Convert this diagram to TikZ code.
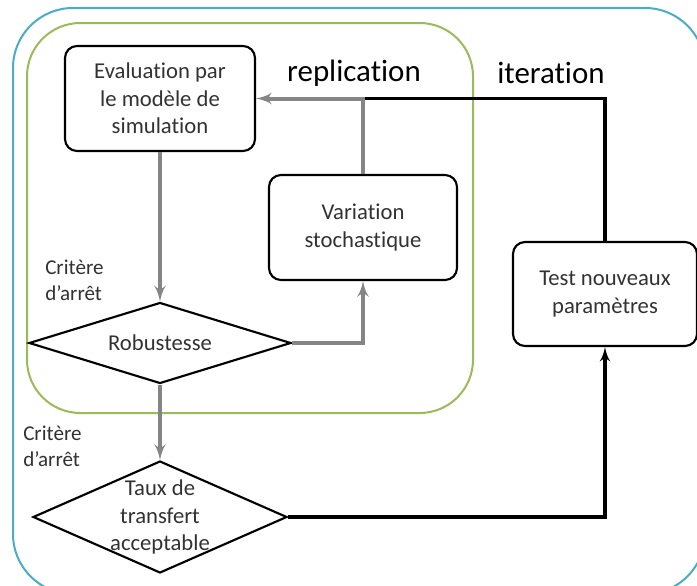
\documentclass[tikz,border=0pt]{standalone}
\usepackage{fontspec}
\setmainfont{Carlito}[Ligatures=NoCommon]
\usetikzlibrary{shapes,arrows}
\definecolor{outerblue}{RGB}{75,172,198}
\definecolor{innergreen}{RGB}{155,187,89}
\definecolor{txtgray}{RGB}{50,50,50}
\tikzstyle{block} = [draw, line width=1.6pt, rectangle, rounded corners=9pt, align=center, text=txtgray, font=\fontsize{17}{20.6}\selectfont]
\tikzstyle{decision} = [draw, line width=1.6pt, diamond, aspect=3.2, inner sep=0pt, align=center, text=txtgray, font=\fontsize{17}{20.6}\selectfont]
\tikzstyle{note} = [draw=none, align=left, anchor=west, inner sep=0pt, text=txtgray, font=\fontsize{15.8}{19.5}\selectfont]
\tikzstyle{title} = [draw=none, text=black, font=\fontsize{23.2}{27}\selectfont]
\tikzstyle{grayline} = [color=black!48, line width=3pt]
\tikzstyle{blackline} = [color=black, line width=2.7pt]

\begin{document}
\begin{tikzpicture}[x=0.75pt, y=-0.75pt, >=latex']
    \useasboundingbox (0,0) rectangle (697,586);
 % frames
    \draw [outerblue, line width=1.5pt, rounded corners=45pt] (13,8) rectangle (705,594);
    \draw [innergreen, line width=1.5pt, rounded corners=40pt] (27,23) rectangle (473,413);
 % nodes
    \node [block, minimum width=142.5pt, minimum height=78.75pt, name=evaluation] at (160,98.5) {Evaluation par\\le mod\`ele de\\simulation};
    \node [block, minimum width=141pt, minimum height=78.75pt, name=variation] at (363,227.5) {Variation\\stochastique};
    \node [block, minimum width=138pt, minimum height=78pt, name=test] at (605,294) {Test nouveaux\\param\`etres};
    \node [decision, minimum width=196.5pt, minimum height=60.75pt, name=robustesse] at (160,343) {Robustesse};
    \node [decision, minimum width=190.5pt, minimum height=84pt, label={[align=center, text=txtgray, font=\fontsize{17}{20.6}\selectfont]center:Taux de\\transfert\\acceptable}, name=taux] at (160,517) {};
    \node [note, name=critere1] at (45,280) {Crit\`ere\\d'arr\^et};
    \node [note, name=critere2] at (23,446) {Crit\`ere\\d'arr\^et};
    \node [title, name=replication] at (354,73) {replication};
    \node [title, name=iteration] at (551,73) {iteration};
    \coordinate (join) at (variation.north |- evaluation.east);
    % edges
    \draw [blackline] (test.north) |- (join);
    \draw [grayline, ->] (evaluation) -- (robustesse);
    \draw [grayline, ->] (robustesse.east) -| (variation.south);
    \draw [grayline, ->] (variation.north) |- (evaluation.east);
    \draw [grayline, ->] (robustesse) -- (taux);
    \draw [blackline, ->] (taux.east) -| (test.south);
\end{tikzpicture}
\end{document}
